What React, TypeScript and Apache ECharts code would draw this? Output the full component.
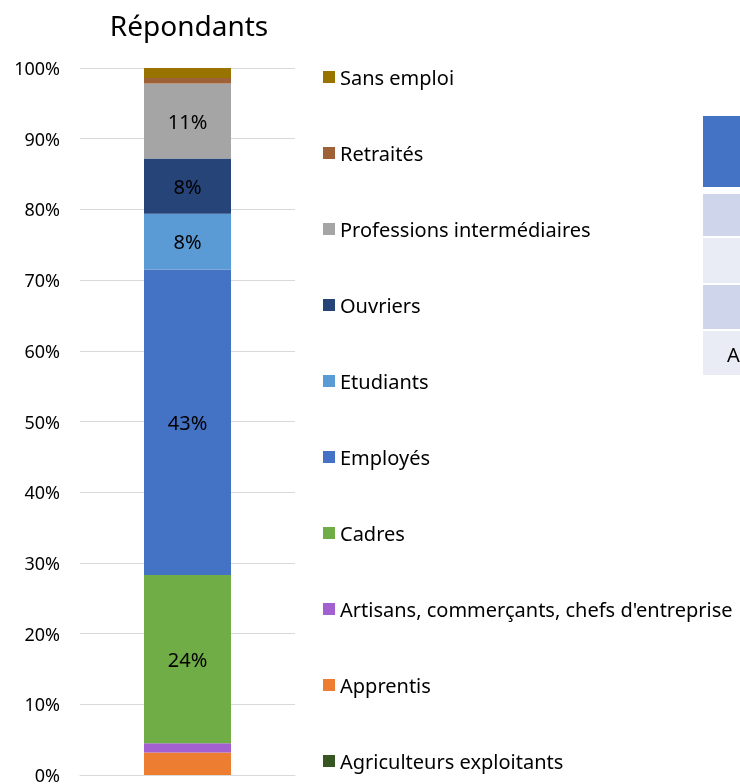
import React, { useEffect, useRef } from "react";
import * as echarts from "echarts";

const categories = ["Répondants"];
const seriesNames = [
  "Agriculteurs exploitants",
  "Apprentis",
  "Artisans, commerçants, chefs d'entreprise",
  "Cadres",
  "Employés",
  "Etudiants",
  "Ouvriers",
  "Professions intermédiaires",
  "Retraités",
  "Sans emploi",
];
const seriesValues = [0, 3.2, 1.3, 23.8, 43.2, 7.9, 7.8, 10.6, 0.8, 1.4];
const seriesColors = [
  "#375623",
  "#ED7D31",
  "#A260D1",
  "#70AD47",
  "#4472C4",
  "#5B9BD5",
  "#264478",
  "#A5A5A5",
  "#9E6236",
  "#997300",
];
const yTicks = [0, 10, 20, 30, 40, 50, 60, 70, 80, 90, 100];

const FONT = "'Noto Sans', 'Open Sans', sans-serif";

export default function App() {
  const ref = useRef<HTMLDivElement>(null);
  useEffect(() => {
    document.body.style.margin = "0";
    const chart = echarts.init(ref.current!, null, { renderer: "svg" });
    chart.setOption({
      animation: false,
      title: {
        text: "Répondants",
        left: 184,
        textAlign: "center",
        top: 6,
        textStyle: { fontFamily: FONT, fontSize: 28, fontWeight: "normal", color: "#000" },
      },
      grid: { left: 80, right: 445, top: 68, bottom: 8, containLabel: false },
      legend: {
        orient: "vertical",
        left: 318,
        top: 62,
        height: 715,
        itemWidth: 12,
        itemHeight: 12,
        itemGap: 56,
        icon: "rect",
        data: [...seriesNames].reverse(),
        textStyle: { fontFamily: FONT, fontSize: 20, color: "#000", lineHeight: 20 },
        selectedMode: false,
      },
      xAxis: {
        type: "category",
        data: categories,
        axisLabel: { show: false },
        axisTick: { show: false },
        axisLine: { lineStyle: { color: "#d9d9d9", width: 1 } },
      },
      yAxis: {
        type: "value",
        min: yTicks[0],
        max: yTicks[yTicks.length - 1],
        interval: 10,
        axisLabel: {
          formatter: "{value}%",
          fontFamily: FONT,
          fontSize: 18,
          color: "#000",
          margin: 20,
        },
        axisLine: { show: false },
        axisTick: { show: false },
        splitLine: { lineStyle: { color: "#d9d9d9", width: 1 } },
      },
      series: seriesNames.map((name, i) => ({
        name,
        type: "bar",
        stack: "total",
        barWidth: 87,
        data: [seriesValues[i]],
        itemStyle: { color: seriesColors[i] },
        label: {
          show: seriesValues[i] >= 5,
          position: "inside",
          formatter: (p: any) => Math.round(p.value) + "%",
          fontFamily: FONT,
          fontSize: 20,
          color: "#000",
        },
      })),
      graphic: [
        { type: "rect", shape: { x: 703, y: 116, width: 40, height: 71 }, style: { fill: "#4472C4" } },
        { type: "rect", shape: { x: 703, y: 194, width: 40, height: 42 }, style: { fill: "#CFD5EA" } },
        { type: "rect", shape: { x: 703, y: 238, width: 40, height: 45 }, style: { fill: "#E9EBF5" } },
        { type: "rect", shape: { x: 703, y: 285, width: 40, height: 44 }, style: { fill: "#CFD5EA" } },
        { type: "rect", shape: { x: 703, y: 331, width: 40, height: 44 }, style: { fill: "#E9EBF5" } },
        {
          type: "text",
          x: 727,
          y: 354,
          style: { text: "A", fontFamily: FONT, fontSize: 20, fill: "#000", verticalAlign: "middle" },
        },
      ],
    });
    return () => chart.dispose();
  }, []);
  return <div ref={ref} style={{ position: "fixed", left: 0, top: 0, width: 740, height: 784 }} />;
}
